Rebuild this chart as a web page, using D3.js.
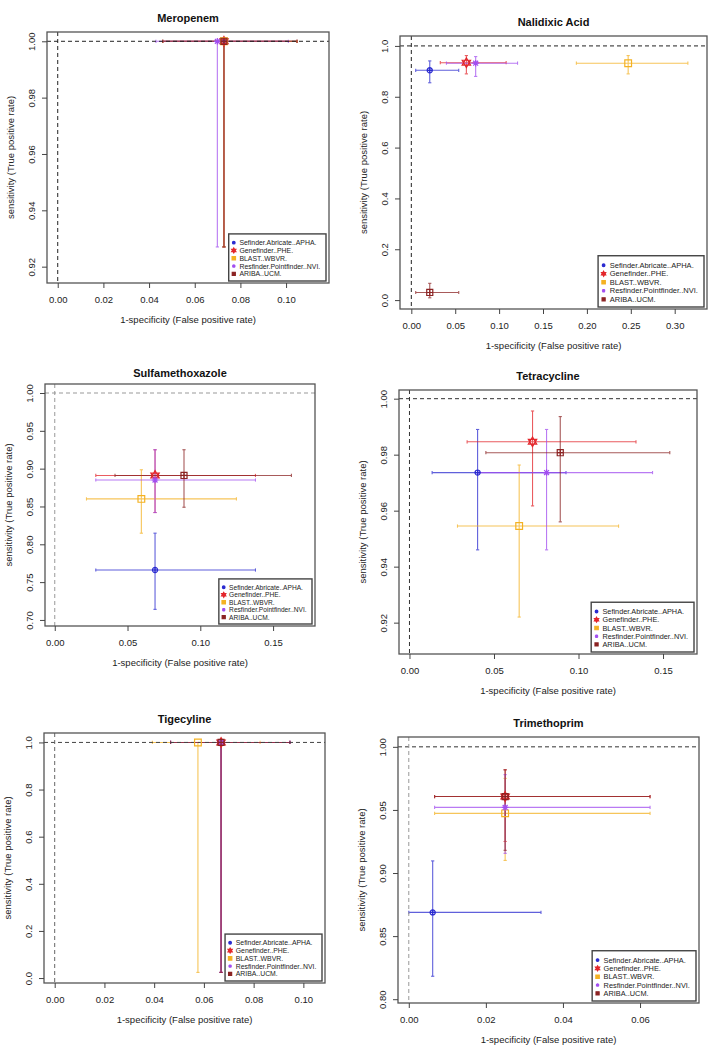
<!DOCTYPE html>
<html>
<head>
<meta charset="utf-8">
<script src="https://cdn.jsdelivr.net/npm/d3@7"></script>
<style>
  html, body { margin: 0; padding: 0; background: #fff; }
  svg { display: block; font-family: "Liberation Sans", Arial, sans-serif; }
</style>
</head>
<body>
<svg id="chart" width="714" height="1050"></svg>
<script>
// ---------------- DATA ----------------
const antibiotics = ["Meropenem", "Nalidixic Acid", "Sulfamethoxazole", "Tetracycline", "Tigecyline", "Trimethoprim"];
const methods = ["Sefinder.Abricate..APHA.", "Genefinder..PHE.", "BLAST..WBVR.", "Resfinder.Pointfinder..NVI.", "ARIBA..UCM."];

// 1-specificity (false positive rate), per antibiotic, per method
const fpr = [
  [0.0728, 0.0728, 0.0728, 0.0699, 0.0728],
  [0.021, 0.0627, 0.247, 0.0733, 0.021],
  [0.0689, 0.0689, 0.0595, 0.0689, 0.0888],
  [0.0403, 0.0728, 0.0649, 0.0811, 0.0892],
  [0.0669, 0.0669, 0.0576, 0.0669, 0.0669],
  [0.0062, 0.025, 0.025, 0.025, 0.025]
];
const fprLo = [
  [0.046, 0.046, 0.046, 0.043, 0.046],
  [0.005, 0.033, 0.188, 0.040, 0.005],
  [0.0282, 0.0282, 0.0218, 0.0282, 0.0414],
  [0.0134, 0.0341, 0.0284, 0.0405, 0.0452],
  [0.0466, 0.0466, 0.0393, 0.0466, 0.0466],
  [0.0, 0.0067, 0.0067, 0.0067, 0.0067]
];
const fprHi = [
  [0.1048, 0.1048, 0.1048, 0.1010, 0.1048],
  [0.054, 0.108, 0.315, 0.121, 0.054],
  [0.1379, 0.1379, 0.1248, 0.1379, 0.1626],
  [0.0926, 0.134, 0.1237, 0.1438, 0.154],
  [0.0946, 0.0946, 0.0826, 0.0946, 0.0946],
  [0.0343, 0.0626, 0.0626, 0.0626, 0.0626]
];
// sensitivity (true positive rate)
const tpr = [
  [1, 1, 1, 1, 1],
  [0.904, 0.934, 0.932, 0.932, 0.030],
  [0.766, 0.891, 0.860, 0.885, 0.891],
  [0.9736, 0.9846, 0.9545, 0.9736, 0.9807],
  [1, 1, 1, 1, 1],
  [0.8688, 0.9606, 0.9473, 0.952, 0.9606]
];
const tprLo = [
  [0.927, 0.927, 0.927, 0.927, 0.927],
  [0.855, 0.890, 0.890, 0.880, 0.009],
  [0.714, 0.842, 0.8147, 0.842, 0.849],
  [0.946, 0.9617, 0.922, 0.946, 0.956],
  [0.024, 0.024, 0.024, 0.024, 0.024],
  [0.8182, 0.925, 0.910, 0.9156, 0.918]
];
const tprHi = [
  [1, 1, 1, 1, 1],
  [0.941, 0.962, 0.962, 0.958, 0.066],
  [0.8147, 0.925, 0.8985, 0.925, 0.925],
  [0.989, 0.9956, 0.9763, 0.989, 0.9936],
  [1, 1, 1, 1, 1],
  [0.9096, 0.9818, 0.975, 0.978, 0.9818]
];

// axis ticks
const xTicks = [
  [0, 0.02, 0.04, 0.06, 0.08, 0.10],
  [0, 0.05, 0.10, 0.15, 0.20, 0.25, 0.30],
  [0, 0.05, 0.10, 0.15],
  [0, 0.05, 0.10, 0.15],
  [0, 0.02, 0.04, 0.06, 0.08, 0.10],
  [0, 0.02, 0.04, 0.06]
];
const yTicks = [
  [0.92, 0.94, 0.96, 0.98, 1.00],
  [0, 0.2, 0.4, 0.6, 0.8, 1.0],
  [0.70, 0.75, 0.80, 0.85, 0.90, 0.95, 1.00],
  [0.92, 0.94, 0.96, 0.98, 1.00],
  [0, 0.2, 0.4, 0.6, 0.8, 1.0],
  [0.80, 0.85, 0.90, 0.95, 1.00]
];
const yTickDecimals = [2, 1, 2, 2, 1, 2];

// ---------------- LAYOUT / STYLE ----------------
const boxes = [
  {l: 47, r: 329, t: 32, b: 283},
  {l: 400, r: 707, t: 36, b: 309},
  {l: 45, r: 315, t: 384, b: 626},
  {l: 399, r: 697, t: 390, b: 654},
  {l: 44, r: 325, t: 733, b: 983},
  {l: 398, r: 699, t: 737, b: 1003}
];
const titleOffsets = [10.5, 10.5, 7.5, 10.5, 10.5, 10.5];
const xDomains = [[-0.0047, 0.1188], [-0.0129, 0.3368], [-0.0067, 0.1788], [-0.0062, 0.1701], [-0.0043, 0.1087], [-0.0028, 0.0753]];
const yDomains = [[0.9142, 1.0033], [-0.035, 1.039], [0.692, 1.0119], [0.9088, 1.0031], [-0.021, 1.04], [0.797, 1.0078]];
const refColors = ["#222", "#222", "#999", "#333", "#444", "#333"];
const refColorsV = ["#222", "#222", "#999", "#333", "#666", "#999"];
const colors = ["#2b2bd0", "#e3262b", "#f4b223", "#a24ef0", "#8b2323"];

// marker path generators (centered at 0,0); s = overall scale
function markerPath(k, s) {
  const p = d3.path();
  if (k === 0) { // circle with plus
    const r = s * 0.62;
    p.moveTo(r, 0); p.arc(0, 0, r, 0, 2 * Math.PI);
    p.moveTo(-r, 0); p.lineTo(r, 0); p.moveTo(0, -r); p.lineTo(0, r);
  } else if (k === 1) { // star of David
    const r = s * 1.15;
    for (const rot of [-Math.PI / 2, Math.PI / 2]) {
      for (let i = 0; i <= 3; i++) {
        const a = rot + i * 2 * Math.PI / 3;
        const x = r * Math.cos(a), y = r * Math.sin(a);
        if (i === 0) p.moveTo(x, y); else p.lineTo(x, y);
      }
      p.closePath();
    }
  } else if (k === 2) { // open square
    const h = s * 0.8;
    p.rect(-h, -h, 2 * h, 2 * h);
  } else if (k === 3) { // asterisk
    const r = s * 0.78;
    p.moveTo(-r, 0); p.lineTo(r, 0); p.moveTo(0, -r); p.lineTo(0, r);
    const q = r * 0.75;
    p.moveTo(-q, -q); p.lineTo(q, q); p.moveTo(-q, q); p.lineTo(q, -q);
  } else { // square with plus
    const h = s * 0.72;
    p.rect(-h, -h, 2 * h, 2 * h);
    p.moveTo(-h, 0); p.lineTo(h, 0); p.moveTo(0, -h); p.lineTo(0, h);
  }
  return p.toString();
}

const svg = d3.select("#chart");
const fontTick = 9.5;

antibiotics.forEach((name, pi) => {
  const b = boxes[pi];
  const x = d3.scaleLinear().domain(xDomains[pi]).range([b.l, b.r]);
  const y = d3.scaleLinear().domain(yDomains[pi]).range([b.b, b.t]);
  const g = svg.append("g");

  // error bars
  const cap = 1.6;
  methods.forEach((m, mi) => {
    const c = colors[mi];
    const eg = g.append("g").attr("stroke", c).attr("stroke-width", 1.1).attr("opacity", 0.75);
    const cx = x(fpr[pi][mi]), cy = y(tpr[pi][mi]);
    const xl = x(fprLo[pi][mi]), xh = x(fprHi[pi][mi]);
    const yl = y(tprLo[pi][mi]), yh = y(tprHi[pi][mi]);
    eg.append("line").attr("x1", xl).attr("x2", xh).attr("y1", cy).attr("y2", cy);
    eg.append("line").attr("x1", xl).attr("x2", xl).attr("y1", cy - cap).attr("y2", cy + cap);
    eg.append("line").attr("x1", xh).attr("x2", xh).attr("y1", cy - cap).attr("y2", cy + cap);
    eg.append("line").attr("x1", cx).attr("x2", cx).attr("y1", yl).attr("y2", yh);
    eg.append("line").attr("x1", cx - cap).attr("x2", cx + cap).attr("y1", yl).attr("y2", yl);
    eg.append("line").attr("x1", cx - cap).attr("x2", cx + cap).attr("y1", yh).attr("y2", yh);
  });

  // reference lines (drawn over error bars)
  g.append("line").attr("x1", b.l).attr("x2", b.r).attr("y1", y(1)).attr("y2", y(1))
    .attr("stroke", refColors[pi]).attr("stroke-width", 1).attr("stroke-dasharray", "4,3");
  g.append("line").attr("x1", x(0)).attr("x2", x(0)).attr("y1", b.t).attr("y2", b.b)
    .attr("stroke", refColorsV[pi]).attr("stroke-width", 1).attr("stroke-dasharray", "4,3");

  // markers
  methods.forEach((m, mi) => {
    g.append("path")
      .attr("d", markerPath(mi, 4.2))
      .attr("transform", `translate(${x(fpr[pi][mi])},${y(tpr[pi][mi])})`)
      .attr("fill", "none").attr("stroke", colors[mi]).attr("stroke-width", 1.2);
  });

  // box
  g.append("rect").attr("x", b.l).attr("y", b.t).attr("width", b.r - b.l).attr("height", b.b - b.t)
    .attr("fill", "none").attr("stroke", "#555").attr("stroke-width", 1.3);

  // x axis
  const xa = g.append("g").attr("transform", `translate(0,${b.b})`)
    .call(d3.axisBottom(x).tickValues(xTicks[pi]).tickFormat(d3.format(".2f")).tickSize(5).tickSizeOuter(0).tickPadding(8.5));
  xa.select(".domain").remove();
  xa.selectAll("line").attr("stroke", "#444");
  xa.selectAll("text").attr("font-size", fontTick).attr("fill", "#222")
    .attr("font-family", "Liberation Sans, Arial, sans-serif");

  // y axis
  const ya = g.append("g").attr("transform", `translate(${b.l},0)`)
    .call(d3.axisLeft(y).tickValues(yTicks[pi]).tickFormat(d3.format("." + yTickDecimals[pi] + "f")).tickSize(5).tickSizeOuter(0));
  ya.select(".domain").remove();
  ya.selectAll("line").attr("stroke", "#444");
  ya.selectAll("text").attr("font-size", fontTick).attr("fill", "#222")
    .attr("font-family", "Liberation Sans, Arial, sans-serif")
    .attr("x", null).attr("dy", null).attr("text-anchor", "middle")
    .attr("transform", "translate(-12.5,0) rotate(-90)");

  // title
  g.append("text").attr("x", (b.l + b.r) / 2).attr("y", b.t - titleOffsets[pi])
    .attr("text-anchor", "middle").attr("font-size", 11).attr("font-weight", "bold").attr("fill", "#111")
    .text(name);
  // axis labels
  g.append("text").attr("x", (b.l + b.r) / 2).attr("y", b.b + 39.5)
    .attr("text-anchor", "middle").attr("font-size", fontTick).attr("fill", "#222")
    .text("1-specificity (False positive rate)");
  g.append("text").attr("transform", `translate(${b.l - 33},${(b.t + b.b) / 2}) rotate(-90)`)
    .attr("text-anchor", "middle").attr("font-size", fontTick).attr("fill", "#222")
    .text("sensitivity (True positive rate)");

  // legend
  const w = b.r - b.l;
  const lw = 0.345 * w, lh = 0.167 * w;
  const lx = b.r - 3 - lw, ly = b.b - 2 - lh;
  const lg = g.append("g");
  lg.append("rect").attr("x", lx).attr("y", ly).attr("width", lw).attr("height", lh)
    .attr("fill", "#fff").attr("stroke", "#444").attr("stroke-width", 1.4);
  const fs = 0.0245 * w, step = 0.0277 * w;
  methods.forEach((m, mi) => {
    const ry = ly + 0.031 * w + mi * step;
    lg.append("path").attr("d", markerPath(mi, 2.2))
      .attr("transform", `translate(${lx + 0.018 * w},${ry})`)
      .attr("fill", mi === 3 ? "none" : colors[mi]).attr("stroke", colors[mi]).attr("stroke-width", 1.1);
    lg.append("text").attr("x", lx + 0.038 * w).attr("y", ry).attr("dy", "0.35em")
      .attr("font-size", fs).attr("fill", "#222").text(m);
  });
});
</script>
</body>
</html>
